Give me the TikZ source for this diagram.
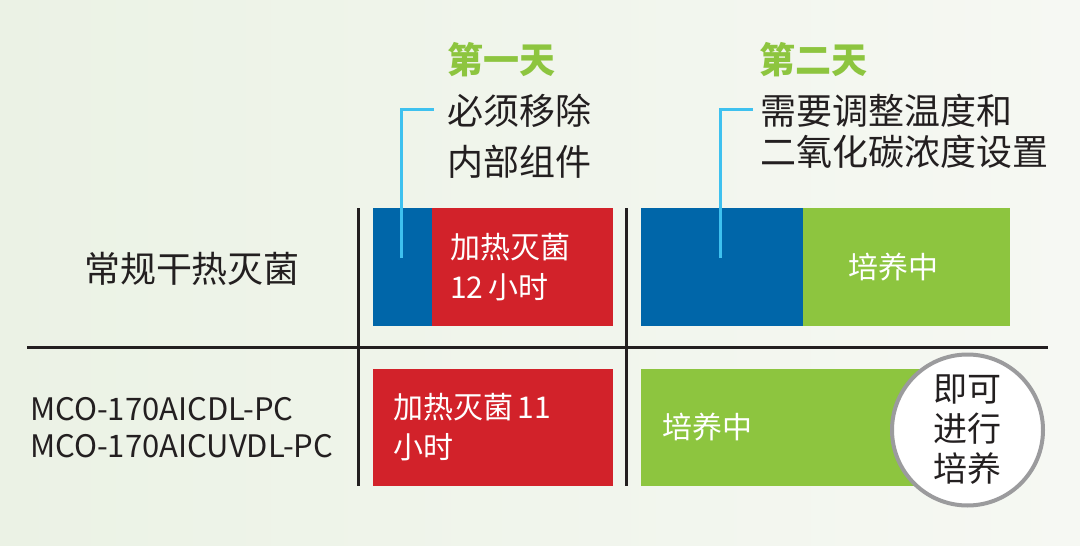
\documentclass[tikz,border=0pt]{standalone}
\usepackage{fontspec}
\setmainfont{Noto Sans CJK SC}
\usepackage{xcolor}
\usepackage{tikz}

\definecolor{barblue}{HTML}{0066A9}
\definecolor{barred}{HTML}{D2222A}
\definecolor{bargreen}{HTML}{8DC53F}
\definecolor{pointcyan}{HTML}{3EC1EF}
\definecolor{circgray}{HTML}{9B9B9D}
\definecolor{ink}{HTML}{231F20}
\definecolor{bgleft}{HTML}{EBF2E5}
\definecolor{bgright}{HTML}{F6F8F3}

\begin{document}
\begin{tikzpicture}[x=1pt,y=-1pt,
    bar/.style={inner sep=0pt,outer sep=0pt,text=white,align=left,font=\fontsize{30}{40}\selectfont},
    grid/.style={line width=3pt,color=ink},
    pointer/.style={line width=3pt,color=pointcyan},
    note/.style={anchor=west,inner sep=0pt,align=left,text=ink}]
    \shade[left color=bgleft,right color=bgright] (0,0) rectangle (1080,546);
    \useasboundingbox (0,0) rectangle (1080,546);

    % headings and notes
    \node[inner sep=0pt,text=bargreen,font=\fontsize{36}{40}\selectfont\bfseries] (day1) at (501,60) {第一天};
    \node[inner sep=0pt,text=bargreen,font=\fontsize{36}{40}\selectfont\bfseries] (day2) at (813,60) {第二天};
    \node[note,font=\fontsize{36}{51}\selectfont] (note1) at (447,136.5) {必须移除\\内部组件};
    \node[note,font=\fontsize{36}{41}\selectfont] (note2) at (760,131.5) {需要调整温度和\\二氧化碳浓度设置};

    % row labels
    \node[inner sep=0pt,text=ink,font=\fontsize{36}{40}\selectfont] (dryheat) at (192,269) {常规干热灭菌};
    \node[note,font=\fontsize{31}{37}\selectfont] (model) at (30,427.5) {MCO-170AICDL-PC\\MCO-170AICUVDL-PC};

    % grid
    \draw[grid] (358,208) -- (358,486);
    \draw[grid] (626,208) -- (626,486);
    \draw[grid] (27,347) -- (1048,347);

    % first row
    \node[bar,fill=barblue,minimum width=59pt,minimum height=118pt] (prep1) at (402.5,267) {};
    \node[bar,fill=barred,minimum width=181pt,minimum height=118pt,text width=145pt] (heat1) at (522.5,267) {加热灭菌\\12\,小时};
    \node[bar,fill=barblue,minimum width=162pt,minimum height=118pt] (prep2) at (722,267) {};
    \node[bar,fill=bargreen,minimum width=207pt,minimum height=118pt,text width=117pt] (grow1) at (906.5,267) {培养中};

    % second row
    \node[bar,fill=barred,minimum width=240pt,minimum height=117pt,text width=200pt] (heat2) at (493,427.5) {加热灭菌\,11\\小时};
    \node[bar,fill=bargreen,minimum width=327pt,minimum height=117pt,text width=285pt] (grow2) at (804.5,427.5) {培养中};
    \node[circle,draw=circgray,line width=4pt,fill=white,minimum size=151pt,inner sep=0pt,align=center,text=ink,font=\fontsize{34}{40}\selectfont] (ready) at (967.5,430) {即可\\进行\\培养};

    % pointers
    \coordinate (tip1) at (401,258);
    \coordinate (end1) at (434,109);
    \coordinate (tip2) at (720,258);
    \coordinate (end2) at (753,109);
    \draw[pointer] (tip1) |- (end1);
    \draw[pointer] (tip2) |- (end2);
\end{tikzpicture}
\end{document}
